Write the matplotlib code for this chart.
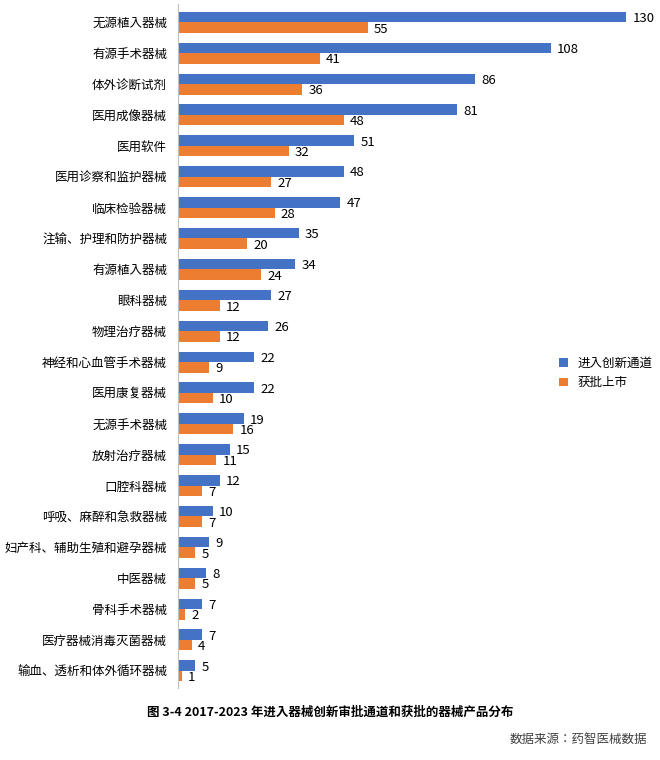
import matplotlib.pyplot as plt
import numpy as np

plt.rcParams["font.family"] = ["Noto Sans CJK SC", "Noto Sans CJK JP", "Noto Sans CJK TC",
                               "Noto Sans CJK KR", "DejaVu Sans"]

categories = ["无源植入器械", "有源手术器械", "体外诊断试剂", "医用成像器械", "医用软件",
              "医用诊察和监护器械", "临床检验器械", "注输、护理和防护器械", "有源植入器械",
              "眼科器械", "物理治疗器械", "神经和心血管手术器械", "医用康复器械",
              "无源手术器械", "放射治疗器械", "口腔科器械", "呼吸、麻醉和急救器械",
              "妇产科、辅助生殖和避孕器械", "中医器械", "骨科手术器械",
              "医疗器械消毒灭菌器械", "输血、透析和体外循环器械"]
innovation = [130, 108, 86, 81, 51, 48, 47, 35, 34, 27, 26, 22, 22, 19, 15, 12, 10, 9, 8, 7, 7, 5]
approved = [55, 41, 36, 48, 32, 27, 28, 20, 24, 12, 12, 9, 10, 16, 11, 7, 7, 5, 5, 2, 4, 1]

blue = "#4472C4"
orange = "#ED7D31"

fig = plt.figure(figsize=(6.6, 7.6), dpi=100)
ax = fig.add_axes([0.27, 0.095, 0.70, 0.9])

y = np.arange(len(categories))
h = 0.34
ax.barh(y - h / 2, innovation, height=h, color=blue, label="进入创新通道")
ax.barh(y + h / 2, approved, height=h, color=orange, label="获批上市")
for yi, a, b in zip(y, innovation, approved):
    ax.text(a + 1.8, yi - h / 2, str(a), va="center_baseline", fontsize=9.5)
    ax.text(b + 1.8, yi + h / 2, str(b), va="center_baseline", fontsize=9.5)

ax.set_yticks(y)
ax.set_yticklabels(categories, fontsize=9)
ax.set_ylim(len(categories) - 0.45, -0.6)
ax.set_xlim(0, 134)
ax.set_xticks([])
ax.tick_params(axis="y", length=0, pad=8)
for s in ["top", "right", "bottom"]:
    ax.spines[s].set_visible(False)
ax.spines["left"].set_color("#BFBFBF")

ax.legend(loc="upper left", bbox_to_anchor=(0.8, 0.5), frameon=False, fontsize=9,
          handlelength=0.7, handleheight=0.7)

fig.text(0.5, 0.058, "图 3-4 2017-2023 年进入器械创新审批通道和获批的器械产品分布",
         ha="center", fontsize=9, fontweight="bold")
fig.text(0.98, 0.022, "数据来源：药智医械数据", ha="right", fontsize=9, color="#404040")

fig.savefig("out.png", dpi=100)
